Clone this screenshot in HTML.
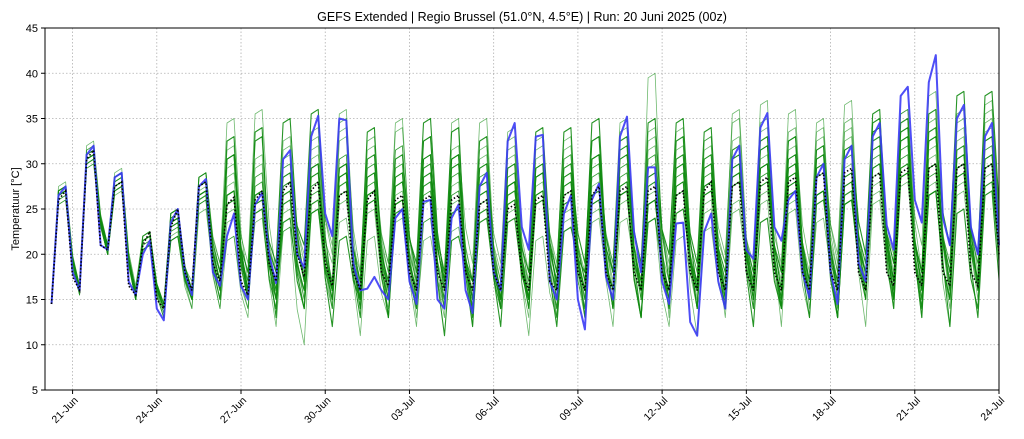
<!DOCTYPE html>
<html><head><meta charset="utf-8"><style>
body{margin:0;background:#fff;}
svg{display:block;font-family:"Liberation Sans",sans-serif;}
</style></head><body>
<svg id="chart" width="1024" height="439" viewBox="0 0 1024 439">
<text x="522" y="21" font-size="12.5" text-anchor="middle">GEFS Extended | Regio Brussel (51.0°N, 4.5°E) | Run: 20 Juni 2025 (00z)</text>
<g id="grid"></g>
<g id="members"></g>
<g id="ctrl"></g>
<g id="meanG"></g>
<rect x="45" y="28" width="954" height="362" fill="none" stroke="#000" stroke-width="1"/>
<g id="axes"></g>
<text transform="translate(19,209) rotate(-90)" font-size="11" text-anchor="middle">Temperatuur [°C]</text>
</svg>
<script>
const yTicks=[5,10,15,20,25,30,35,40,45];
const xTickDays=[1,4,7,10,13,16,19,22,25,28,31,34];
const xTickLabels=["21-Jun","24-Jun","27-Jun","30-Jun","03-Jul","06-Jul","09-Jul","12-Jul","15-Jul","18-Jul","21-Jul","24-Jul"];
// control: per day [00z,06z,12z,18z], day 0 = 20 Jun (00z absent)
const control=[[null,14.5,26.5,27.5],[18,16,31,32],[21,20.5,28.5,29],[17,15.5,20,21.5],[14,12.7,23.5,25],[18,15.5,27.5,28.3],[18,16.5,22,24.5],[16.5,15,25.5,26.8],[20,16.8,30.5,31.5],[20,18.5,33,35.3],[24.5,22,35,34.8],[19,16,16.2,17.5],[16,15,24,25],[17,14.5,25.8,26],[15,14,24,25.5],[16,13.5,27.5,29],[18,16,32.5,34.5],[23,20.5,33,33.2],[17,15,24.5,26.5],[15,11.7,26,27.8],[17.5,15,33,35.2],[22.5,18,29.6,29.6],[17,14.5,23.4,23.5],[12.5,11,22.5,24.5],[17,14,30.5,32],[20.5,19.5,34,35.6],[23,21.5,26,27],[18,15.2,28.5,30],[18,14.5,30.5,32],[19,17,33,34.5],[23.2,20.5,37.5,38.5],[26,23.5,39,42],[24,21,35,36.5],[23,20,33,34.5]];
const controlEnd=21;
const mean=[[null,14.5,26,27],[17.5,16,30.5,31.5],[21,20.5,27.5,28],[16.5,15.5,21,22.5],[15,14,23,25],[18,16,27.5,28],[19,17,25.5,26.3],[17,15.5,26,27],[19,17,27,28],[20,17.5,27,28],[19,16.5,26.5,27],[18,16,26,27],[18,16.5,26,26.5],[18,16,26,26.5],[18,16,26,26.5],[18,16,25.5,26],[18,16,25,25.5],[18,16,26,26.5],[17,16,26.5,27],[18,16,26.5,27.5],[18,16,27,27.5],[18,16,27,27.5],[18,16,26.5,27],[18,16,27,28],[18,16,27.5,28],[18,16,28,28.5],[18,16,28,28.5],[18,16,28.5,29],[18,16,29,29.5],[18,16,28.5,29],[18,16.5,29,29.5],[18,16.5,29.5,30],[18,16.5,29.5,30],[18,16.5,29.5,30]];
const meanEnd=20;
const memberHi=[
[27,31,29,22,24,28,27,26,29,30,28,27,26,28,25,27,30,29,26,27,32,28,25,27,29,30,31,27,28,32,34,30,29,33],
[28,32,28,21,25,29,22,25,32,33,35,25,24,27,23,28,33,27,25,30,35,24,22,29,33,26,30,32,34,28,36,33,31,30],
[26,30.5,27.5,21,22,26,30,24,23,28,26,30,32,22,27,29,25,30,33,24,28,31,27,33,25,29,36,24,30,27,30,35,28,36],
[27.5,31.5,28.5,22.5,25,28,26,34,27,25,30,31,29,30,34,24,28,26,30,33,27,29,35,30,28,33,27,31,29,35,30,33,38,28],
[27,31,28,22,23.5,27.5,25,28,30,27,33,29,35,26,30,32,26,29,31,28,26,34,30,27,36,31,29,34,28,32,31,29,36,34],
[26.5,30,27,21.5,22.5,26,28,30,25,32,24,28,27,33,28,26,29,31,27,25,30,27,32,29,26,30,28,33,35,30,28,32,30,32],
[27,31,29,21,24,27,31,27,24,26,29,34,25,29,31,30,24,27,28,31,33,26,28,31,30,28,33,27,26,34,33,27,31,31],
[27,32,28,22,23,28,24,26,31,28,27,26,30,24,29,27,31,33,24,26,29,30,27,25,30,34,26,29,31,30,36,30,33,29],
[27,31,28,21,24,26,22,29,23,25,31,22,29,24,35,26,30,22,27,29,24,40,28,23,30,37,25,27,32,26,34,28,27,37],
[27,30.5,29,22,22,27,33,25,26,30,22,29,26,31,22,33,26,30,23,35,27,24,33,28,32,24,29,30,26,33,29,36,25,30],
[27.5,32.5,29.5,22,25,29,35,29,27,29,31,28,32,27,29,31,28,32,29,30,31,33,29,32,28,32,31,29,33,31,32,31,34,31],
[26,30,28,21,22,25,29,36,30,27,34,32,28,31,26,29,32,28,31,27,29,31,34,26,31,27,33,35,29,31,33,30,29,35],
[27.5,31,28,22,24.5,29,31,27,35,29,30,27,31,33,30,28,27,34,29,31,28,26,30,34,29,32,30,26,32,36,29,34,32,27],
[26.5,31,28.5,21.5,23,27,26,31,29,34,27,33,30,29,32,35,29,27,32,29,34,29,27,30,35,29,32,31,37,29,31,29,35,33],
[27,31.5,29,22.5,24,28,32,28,33,31,36,30,34,31,27,30,34,30,28,33,30,32,29,33,28,35,34,30,31,34,32,38,31,32],
[27,31,27.5,21,23.5,26.5,27,33,28,36,29,26,28,35,31,25,28,29,34,26,31,35,31,28,31,30,28,32,27,30,35,27,30,38]];
const memberLo=[
[14.5,16,20,15,14,16,17,15,18,17,16,15,17,16,15,17,16,15,17,16,18,16,14,17,18,16,15,17,16,18,17,16,18,17],
[14.5,16.5,20.5,15.5,13.5,15.5,16,14,17,19,20,15,14,15,14,16,18,14,13,15,19,15,12,16,19,15,14,17,18,16,20,18,17,19],
[14.5,15.5,20,16,14.5,17,18,16,15,16,14,17,18,13,15,15,14,17,19,13,15,18,15,17,13,16,19,14,16,15,17,18,15,20],
[14.5,16,20.5,15,14,16,17,16,13,14,16,15,16,15,18,13,15,14,16,19,14,16,20,16,14,18,14,15,16,19,15,17,21,16],
[14.5,16,21,16,14,15.5,18,17,16,18,17,14,19,16,13,17,15,13,15,17,14,17,18,14,19,16,15,18,15,17,16,15,19,18],
[14.5,16,20,15,13,15,16,18,15,16,15,16,15,17,16,14,16,17,15,13,16,15,17,15,14,17,15,16,19,17,14,16,17,16],
[14.5,16,20.5,15.5,14,16,17,16,15,14,15,17,13,14,17,15,12,15,14,16,18,13,15,16,15,14,18,15,13,18,17,14,15,17],
[14.5,16.5,21,16,14.5,16,15,14,16,17,15,16,17,14,16,15,17,18,13,14,16,17,15,14,16,18,14,16,17,16,19,16,17,15],
[14.5,15.5,20,15,13,14,14,13,12,10,14,11,13,12,14,12,15,11,13,14,12,17,13,11,14,16,12,13,14,12,15,13,12,17],
[14.5,16,21,15.5,14,15,16,15,14,16,12,15,13,16,11,17,14,15,12,18,14,13,16,14,17,12,14,15,13,16,14,18,12,14],
[14.5,16.5,21,16,14,16,19,17,16,15,17,16,18,15,16,17,15,16,18,15,17,16,15,18,16,17,16,15,18,16,17,15,18,16],
[14.5,15.5,20,15,13,14,16,19,18,15,19,18,15,17,14,15,17,15,17,14,15,17,19,14,16,15,18,19,15,16,18,15,14,19],
[14.5,16,20.5,16,14.5,16,18,15,19,17,16,14,16,18,16,14,15,18,16,17,14,13,16,19,15,17,16,13,17,20,15,18,16,13],
[14.5,16,20.5,15,13.5,15,14,17,16,20,14,18,16,15,17,19,15,14,17,15,19,15,14,16,20,15,17,16,20,15,16,14,19,17],
[14.5,16.5,21,16.5,14,16,19,16,18,17,21,16,19,17,14,16,19,16,15,18,16,17,15,18,14,19,18,16,17,18,16,21,16,17],
[14.5,16,20,15.5,14,15,15,18,15,21,16,13,15,19,17,12,14,15,18,13,16,19,17,14,16,15,14,17,13,15,19,13,15,20]];

const X0=44.5,PXD=(999-44.5)/34;
function xs(d){return X0+d*PXD;}
function ys(v){return 390-(v-5)*362/40;}
const NS="http://www.w3.org/2000/svg";
function mk(tag,parent,attrs){const e=document.createElementNS(NS,tag);for(const k in attrs)e.setAttribute(k,attrs[k]);parent.appendChild(e);return e;}
const grid=document.getElementById('grid'),axes=document.getElementById('axes');
yTicks.forEach(v=>{
  const l=mk('line',grid,{x1:45,x2:999,y1:ys(v),y2:ys(v),stroke:'#b0b0b0','stroke-width':0.8,'stroke-dasharray':'1.5,2'});
  
  
  mk('line',axes,{x1:41,x2:45,y1:ys(v),y2:ys(v),stroke:'#000'});
  const t=mk('text',axes,{x:38,y:ys(v)+4,'font-size':11,'text-anchor':'end'});
  t.textContent=v;
  
  
});
xTickDays.forEach((d,i)=>{
  const x=xs(d);
  const l=mk('line',grid,{x1:x,x2:x,y1:28,y2:390,stroke:'#b0b0b0','stroke-width':0.8,'stroke-dasharray':'1.5,2'});
  
  
  mk('line',axes,{x1:x,x2:x,y1:390,y2:394,stroke:'#000'});
  const t=mk('text',axes,{'font-size':10.5,'text-anchor':'end',transform:`translate(${x+6},${401}) rotate(-45)`});
  t.textContent=xTickLabels[i];
  
  
});
function path4(arr,end){
  let p=[];
  arr.forEach((day,d)=>{day.forEach((v,h)=>{if(v!==null)p.push([xs(d+h*0.25),ys(v)]);});});
  p.push([xs(arr.length),ys(end)]);
  return 'M'+p.map(q=>q[0].toFixed(1)+','+q[1].toFixed(1)).join('L');
}
function pathMember(hi,lo){
  let p=[[xs(0.25),ys(lo[0])],[xs(0.5),ys(hi[0]-0.5)],[xs(0.75),ys(hi[0])]];
  for(let d=1;d<hi.length;d++){
    p.push([xs(d),ys(lo[d]+(hi[d-1]-lo[d])*0.3)]);
    p.push([xs(d+0.25),ys(lo[d])]);
    p.push([xs(d+0.5),ys(hi[d]-0.5)]);
    p.push([xs(d+0.75),ys(hi[d])]);
  }
  p.push([xs(hi.length),ys(lo[lo.length-1]+(hi[hi.length-1]-lo[lo.length-1])*0.3)]);
  return 'M'+p.map(q=>q[0].toFixed(1)+','+q[1].toFixed(1)).join('L');
}
const mg=document.getElementById('members');
memberHi.forEach((hi,i)=>{
  const e=mk('path',mg,{d:pathMember(hi,memberLo[i]),fill:'none',stroke:'#0f8a0f','stroke-width':i%3===0?1.1:0.8,'stroke-opacity':i%3===0?0.9:0.6,'stroke-linejoin':'round'});
  
  
});
const c=mk('path',document.getElementById('ctrl'),{d:path4(control,controlEnd),fill:'none',stroke:'#3b3bf5','stroke-width':2,'stroke-opacity':0.9,'stroke-linejoin':'round'});


const m=mk('path',document.getElementById('meanG'),{d:path4(mean,meanEnd),fill:'none',stroke:'#000','stroke-width':1.6,'stroke-dasharray':'1.5,2'});


</script>
</body></html>
